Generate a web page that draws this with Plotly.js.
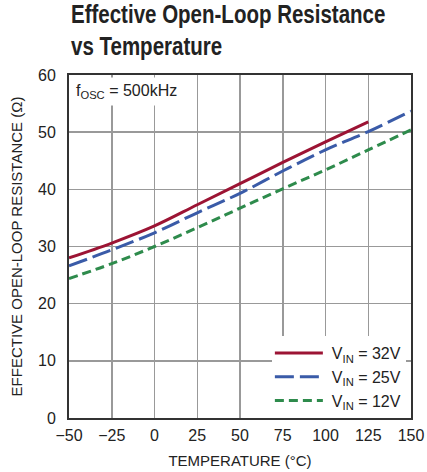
<!DOCTYPE html>
<html>
<head>
<meta charset="utf-8">
<script src="https://cdn.plot.ly/plotly-3.0.1.min.js"></script>
<style>html,body{margin:0;padding:0;background:#fff;}#chart{width:427px;height:472px;}</style>
</head>
<body>
<div id="chart"></div>
<script>
const temps = [-50, -25, 0, 25, 50, 75, 100, 125, 150];
const temps32 = [-50, -25, 0, 25, 50, 75, 100, 125];
const r32 = [28.0, 30.6, 33.6, 37.3, 41.0, 44.7, 48.3, 51.8];
const r25 = [26.6, 29.4, 32.4, 35.9, 39.3, 43.2, 46.9, 50.1, 53.7];
const r12 = [24.4, 27.0, 30.0, 33.3, 36.7, 40.1, 43.4, 46.9, 50.4];
const names = ['V<sub>IN</sub> = 32V', 'V<sub>IN</sub> = 25V', 'V<sub>IN</sub> = 12V'];
const FONT = 'Arial, "Liberation Sans", sans-serif';

const traces = [
  {x: temps32, y: r32, name: names[0], mode: 'lines', line: {color: '#9c1434', width: 3, shape: 'spline'}},
  {x: temps, y: r25, name: names[1], mode: 'lines', line: {color: '#3a5ba8', width: 3, dash: '19px,6px', shape: 'spline'}},
  {x: temps, y: r12, name: names[2], mode: 'lines', line: {color: '#2e8b4c', width: 3, dash: '9px,5px', shape: 'spline'}}
];

const layout = {
  width: 427, height: 472,
  margin: {l: 69, r: 16, t: 75, b: 54},
  paper_bgcolor: '#fff', plot_bgcolor: '#fff',
  font: {family: FONT, size: 16, color: '#222'},
  xaxis: {
    range: [-50, 150], dtick: 25, tick0: -50,
    showgrid: true, gridcolor: '#999', gridwidth: 1.5,
    showline: true, linecolor: '#333', linewidth: 2, mirror: true,
    ticks: '', zeroline: false, ticklabelstandoff: 2,
    tickfont: {family: FONT, size: 16, color: '#222'},
    title: {text: 'TEMPERATURE (°C)', font: {family: FONT, size: 15, color: '#222'}, standoff: 12}
  },
  yaxis: {
    range: [0, 60], dtick: 10,
    showgrid: true, gridcolor: '#999', gridwidth: 1.5,
    showline: true, linecolor: '#333', linewidth: 2, mirror: true,
    ticks: '', zeroline: false, ticklabelstandoff: 8,
    tickfont: {family: FONT, size: 16, color: '#222'},
    title: {text: 'EFFECTIVE OPEN-LOOP RESISTANCE (Ω)', font: {family: FONT, size: 15, color: '#222'}, standoff: 12}
  },
  legend: {
    x: 0.985, xanchor: 'right', y: 0.0, yanchor: 'bottom',
    bgcolor: '#fff', borderwidth: 0, itemwidth: 50,
    font: {family: FONT, size: 16, color: '#222'},
    tracegroupgap: 0
  },
  annotations: [{
    text: 'f<sub>OSC</sub> = 500kHz',
    xref: 'paper', yref: 'paper', x: 0.005, y: 0.993, xanchor: 'left', yanchor: 'top',
    showarrow: false, bgcolor: '#fff', borderpad: 4,
    font: {family: FONT, size: 16, color: '#222'}
  }, {
    text: '<b>Effective Open-Loop Resistance<br>vs Temperature</b>',
    xref: 'paper', yref: 'paper', x: 0.0, y: 1.0, xanchor: 'left', yanchor: 'bottom', yshift: 12,
    align: 'left', showarrow: false,
    font: {family: FONT, size: 25, color: '#222'}
  }],
  showlegend: true
};

Plotly.newPlot('chart', traces, layout, {staticPlot: true, displayModeBar: false}).then(function () {
  const anns = document.querySelectorAll('.annotation-text');
  const t = anns[anns.length - 1];
  const bb = t.getBBox();
  const x0 = bb.x;
  t.setAttribute('transform', 'translate(' + x0 + ',0) scale(0.82,1) translate(' + (-x0) + ',0)');
  document.querySelectorAll('.legend .legendlines path').forEach(function (p) {
    p.setAttribute('d', 'M3,0h48');
  });
});
</script>
</body>
</html>
